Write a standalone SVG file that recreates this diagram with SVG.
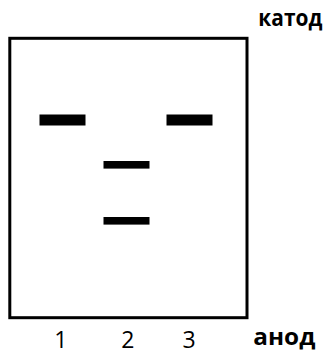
<svg xmlns="http://www.w3.org/2000/svg" width="329" height="356" viewBox="0 0 329 356">
<style>
.lbl{font-family:"Open Sans","DejaVu Sans",sans-serif;font-weight:bold;font-size:23px;fill:#000}
.num{font-family:"Open Sans","DejaVu Sans",sans-serif;font-size:23px;fill:#000;text-anchor:middle}
.bar{fill:#000}
</style>
<rect width="329" height="356" fill="#fff"/>
<g id="frame"><rect x="9.8" y="38.3" width="237.2" height="279.4" fill="none" stroke="#000" stroke-width="3"/></g>
<g id="band1"><rect class="bar" x="39.5" y="114.5" width="46" height="11"/></g>
<g id="band3"><rect class="bar" x="166.5" y="114.5" width="46" height="11"/></g>
<g id="band2a"><rect class="bar" x="103.5" y="161" width="46" height="7.6"/></g>
<g id="band2b"><rect class="bar" x="103.5" y="217" width="46" height="7.6"/></g>
<g id="labels">
<text class="lbl" x="258.3" y="26" textLength="64" lengthAdjust="spacingAndGlyphs">катод</text>
<text class="lbl" x="253.3" y="345" textLength="62" lengthAdjust="spacingAndGlyphs">анод</text>
<text class="num" x="60.8" y="348">1</text>
<text class="num" x="127.8" y="348">2</text>
<text class="num" x="189.2" y="348">3</text>
</g>
<g id="connectors"/>
</svg>
